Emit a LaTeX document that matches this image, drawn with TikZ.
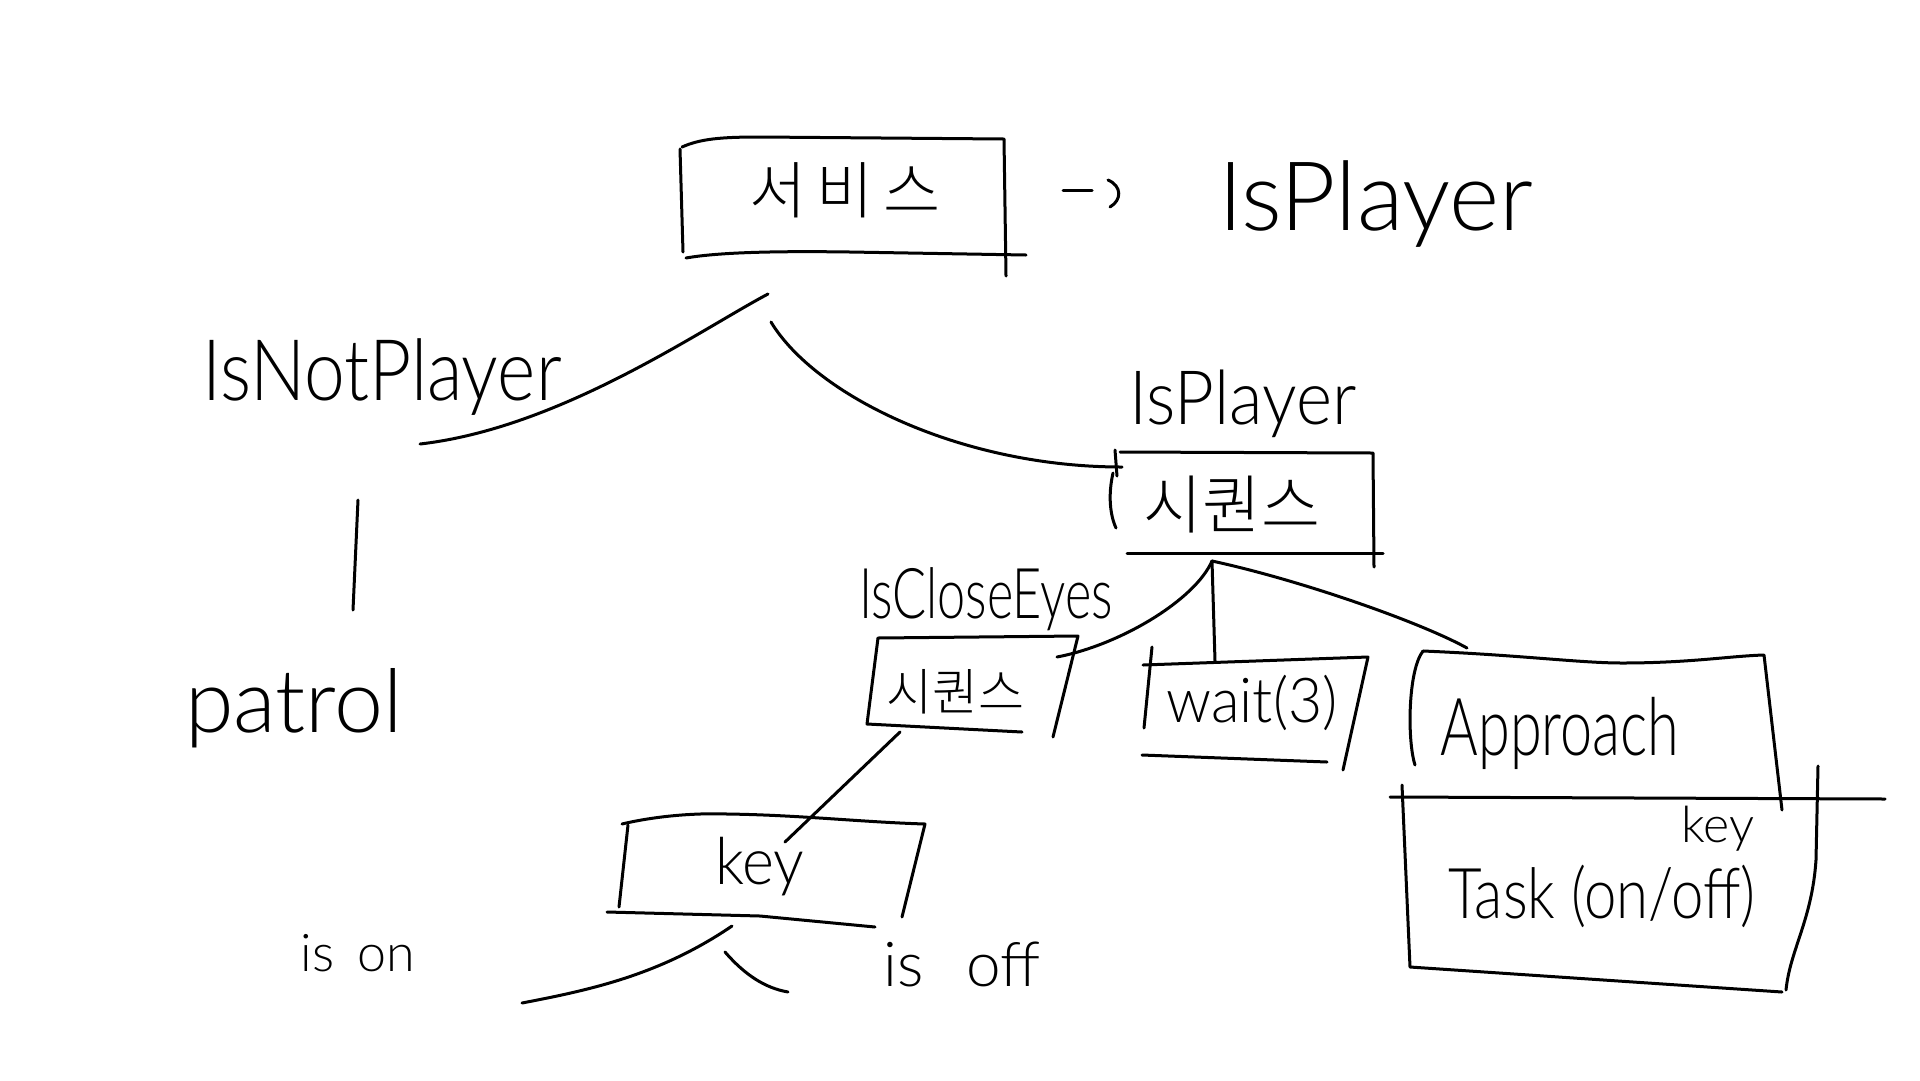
\documentclass[tikz,border=0pt]{standalone}
\usepackage{graphicx}
\usepackage{fontspec}
\setmainfont{Lato Light}
\newfontfamily\kr{Noto Sans CJK KR Light}
\begin{document}
\begin{tikzpicture}[x=1pt,y=-1pt,
  pen/.style={draw=black,line width=3pt,line cap=round,line join=round},
  txt/.style={inner sep=0pt,anchor=base,font=\fontsize{#1}{#1}\selectfont},
  krt/.style={inner sep=0pt,anchor=center,font=\kr\fontsize{#1}{#1}\selectfont}]
\fill[white] (0,0) rectangle (1920,1080);
\useasboundingbox (0,0) rectangle (1920,1080);

% ---------- texts ----------
\node[krt=62] (root) at (845,190) {서\hspace{10pt}비\hspace{10pt}스};
\node[txt=96] (isp1) at (1376,230) {\scalebox{1.0}[1]{IsPlayer}};
\node[txt=85] (notp) at (382,400) {\scalebox{0.86}[1]{IsNotPlayer}};
\node[txt=75] (isp2) at (1243,424) {\scalebox{0.92}[1]{IsPlayer}};
\node[krt=64] (seq1) at (1232,505) {시퀀스};
\node[txt=88] (patrol) at (294,732) {patrol};
\node[txt=70] (close) at (986,618) {\scalebox{0.72}[1]{IsCloseEyes}};
\node[krt=50] (seq2) at (955,692) {시퀀스};
\node[txt=62] (wait) at (1252,722) {\scalebox{0.95}[1]{wait(3)}};
\node[txt=80] (appr) at (1560,755) {\scalebox{0.72}[1]{Approach}};
\node[txt=50] (key2) at (1718,842) {key};
\node[txt=70] (task) at (1602,918) {\scalebox{0.83}[1]{Task (on/off)}};
\node[txt=65] (key1) at (760,884) {\scalebox{0.94}[1]{key}};
\node[txt=52] (ison) at (358,971) {is\hspace{0.45em}on};
\node[txt=62] (isoff) at (962,986) {is\hspace{0.7em}off};

% ---------- boxes ----------
% root box
\draw[pen] (682,147) .. controls (700,139) and (720,137) .. (760,137) -- (1004,139) -- (1006,276);
\draw[pen] (680,149) -- (683,252);
\draw[pen] (686,258) .. controls (720,252) and (780,251) .. (850,252) -- (1026,255);
% arrow mark
\draw[pen] (1063,190) -- (1092,190);
\draw[pen] (1108,180) .. controls (1122,186) and (1122,200) .. (1110,207);

% sequence box (middle)
\draw[pen] (1120,452) -- (1373,453) -- (1374,567);
\draw[pen] (1127,553) -- (1383,553);
\draw[pen] (1113,473) .. controls (1108,495) and (1110,515) .. (1116,528);
\draw[pen] (1115,450) -- (1117,476);

% sequence box (small)
\draw[pen] (878,638) -- (1078,636) -- (1053,737);
\draw[pen] (878,638) -- (867,724) -- (1022,732);

% wait box
\draw[pen] (1143,665) -- (1368,657) -- (1343,770);
\draw[pen] (1152,647) -- (1144,728);
\draw[pen] (1142,755) -- (1327,762);

% approach / task box
\draw[pen] (1423,651) .. controls (1520,655) and (1580,663) .. (1622,663) .. controls (1690,663) and (1730,656) .. (1764,655) -- (1782,810);
\draw[pen] (1423,651) .. controls (1408,670) and (1407,740) .. (1415,765);
\draw[pen] (1390,797) -- (1885,799);
\draw[pen] (1402,785) -- (1410,967) -- (1782,992);
\draw[pen] (1818,766) -- (1816,860) .. controls (1812,920) and (1790,950) .. (1786,990);

% key box
\draw[pen] (622,824) .. controls (660,815) and (700,813) .. (727,814) .. controls (800,815) and (860,822) .. (925,824) -- (902,917);
\draw[pen] (628,825) -- (619,907);
\draw[pen] (607,912) -- (760,916) -- (875,927);

% ---------- connectors ----------
\coordinate (rA) at (768,294);
\coordinate (nA) at (420,444);
\coordinate (rB) at (771,322);
\coordinate (sB) at (1122,467);
\coordinate (pT) at (358,500);
\coordinate (pB) at (353,610);
\coordinate (s1) at (1212,561);
\coordinate (cE) at (1057,657);
\coordinate (wT) at (1215,661);
\coordinate (aT) at (1467,648);
\coordinate (s2) at (900,732);
\coordinate (kT) at (785,842);
\coordinate (kL) at (732,926);
\coordinate (kLe) at (522,1003);
\coordinate (kR) at (725,952);
\coordinate (kRe) at (788,992);

\draw[pen] (rA) .. controls (700,330) and (560,428) .. (nA);
\draw[pen] (rB) .. controls (815,395) and (960,467) .. (sB);
\draw[pen] (pT) -- (pB);
\draw[pen] (s1) .. controls (1195,600) and (1120,645) .. (cE);
\draw[pen] (s1) -- (wT);
\draw[pen] (s1) .. controls (1300,580) and (1420,622) .. (aT);
\draw[pen] (s2) -- (kT);
\draw[pen] (kL) .. controls (660,975) and (590,990) .. (kLe);
\draw[pen] (kR) .. controls (745,975) and (765,988) .. (kRe);
\end{tikzpicture}
\end{document}
